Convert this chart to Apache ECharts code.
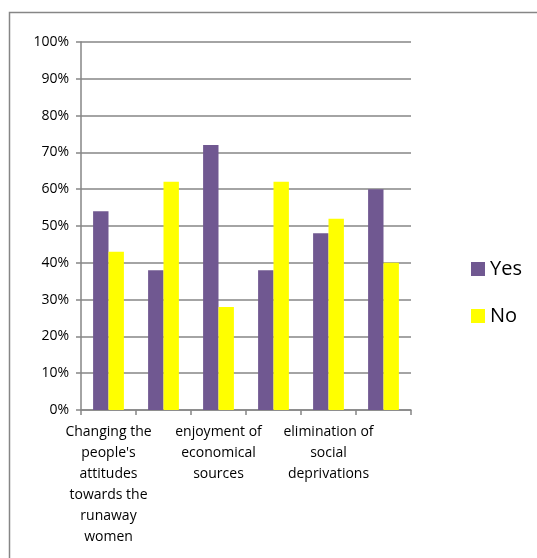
<!DOCTYPE html>
<html>
<head>
<meta charset="utf-8">
<script src="https://cdn.jsdelivr.net/npm/echarts@6/dist/echarts.min.js"></script>
<style>
  html, body { margin: 0; padding: 0; background: #fff; }
  #chart { width: 537px; height: 558px; }
</style>
</head>
<body>
<div id="chart"></div>
<script>
// categories (only every other label is shown in the original)
const categories = [
  "Changing the\npeople's\nattitudes\ntowards the\nrunaway\nwomen",
  '',
  'enjoyment of\neconomical\nsources',
  '',
  'elimination of\nsocial\ndeprivations',
  ''
]
const yesValues = [54, 38, 72, 38, 48, 60]
const noValues = [43, 62, 28, 62, 52, 40]

const chart = echarts.init(document.getElementById('chart'), null, { renderer: 'canvas' })

const gridColor = '#868686'
const font = 'Open Sans, Liberation Sans, sans-serif'

chart.setOption({
  animation: false,
  backgroundColor: '#fff',
  graphic: [{
    type: 'rect',
    shape: { x: 9.5, y: 12.5, width: 600, height: 600 },
    style: { fill: 'none', stroke: gridColor, lineWidth: 1.5 },
    silent: true
  }],
  grid: {
    left: 81,
    right: 126,
    top: 42,
    bottom: 148
  },
  legend: {
    orient: 'vertical',
    left: 466,
    top: 254,
    itemWidth: 14,
    itemHeight: 14,
    itemGap: 27,
    icon: 'rect',
    textStyle: { fontSize: 20, lineHeight: 20, color: '#000', fontFamily: font },
    data: ['Yes', 'No']
  },
  xAxis: {
    type: 'category',
    data: categories,
    axisLine: { lineStyle: { color: gridColor, width: 1.5 } },
    axisTick: { show: true, interval: 0, length: 5, lineStyle: { color: gridColor, width: 1.5 } },
    axisLabel: {
      interval: 0,
      color: '#000',
      fontSize: 14,
      fontFamily: font,
      lineHeight: 21,
      margin: 12
    },
    splitLine: { show: false }
  },
  yAxis: {
    type: 'value',
    min: 0,
    max: 100,
    interval: 10,
    axisLine: { show: true, lineStyle: { color: gridColor, width: 1.5 } },
    axisTick: { show: true, length: 5, lineStyle: { color: gridColor, width: 1.5 } },
    axisLabel: {
      formatter: '{value}%',
      color: '#000',
      fontSize: 14,
      fontFamily: font,
      margin: 12
    },
    splitLine: { lineStyle: { color: gridColor, width: 1.5 } }
  },
  series: [
    {
      name: 'Yes',
      type: 'bar',
      data: yesValues,
      barGap: '0%',
      barCategoryGap: '44%',
      itemStyle: { color: '#705891' }
    },
    {
      name: 'No',
      type: 'bar',
      data: noValues,
      itemStyle: { color: '#ffff00' }
    }
  ]
})
</script>
</body>
</html>
